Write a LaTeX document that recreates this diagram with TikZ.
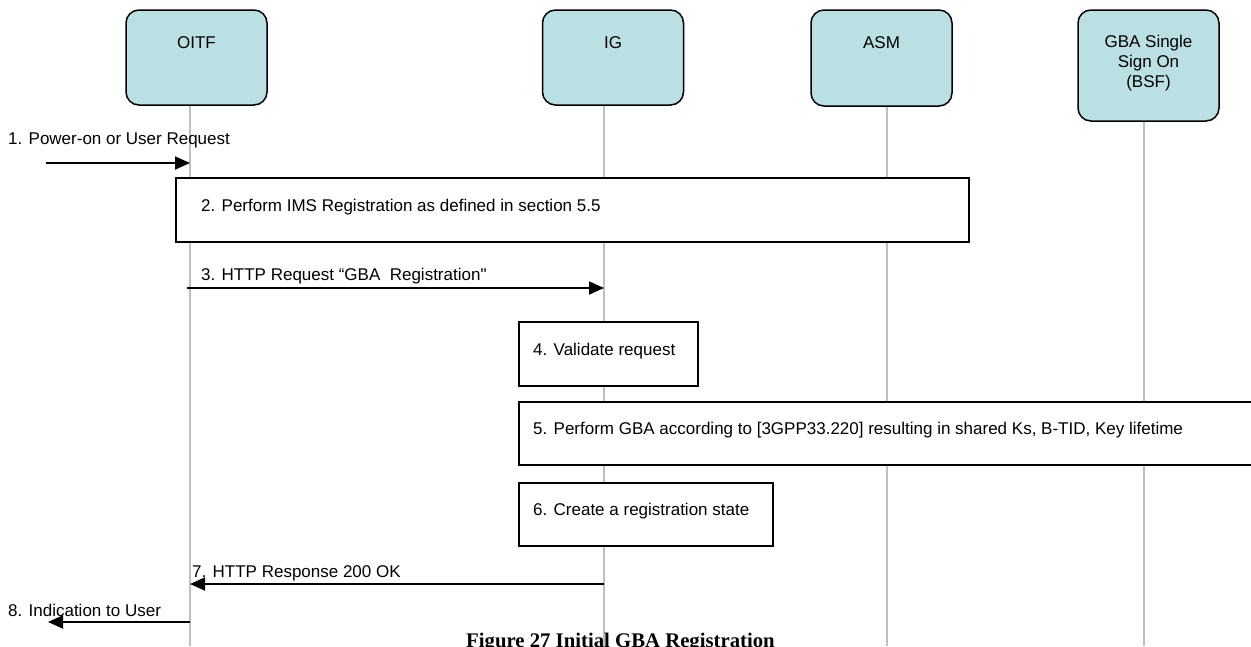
\documentclass[tikz,border=0pt]{standalone}
\usepackage{fontspec}
\setmainfont{Liberation Sans}[Ligatures=TeXOff]
\newfontfamily\capfont{Liberation Serif}
\usetikzlibrary{arrows.meta}
\definecolor{boxfill}{RGB}{187,224,227}
\definecolor{lifegray}{RGB}{192,192,192}
\begin{document}
\begin{tikzpicture}[x=1pt,y=-1pt,
  actor/.style={draw, line width=1.5pt, rounded corners=13pt, fill=boxfill, inner sep=0pt, minimum width=141pt},
  lifeline/.style={draw=lifegray, line width=1.3pt},
  stepbox/.style={draw, line width=1.5pt, fill=white, inner sep=0pt, anchor=north west},
  msg/.style={line width=1.8pt, -{Triangle[length=15pt,width=13pt]}},
  txt/.style={font=\fontsize{17}{20}\selectfont, inner sep=0pt, anchor=base west},
  ctxt/.style={font=\fontsize{17}{20}\selectfont, inner sep=0pt, anchor=base}]
\useasboundingbox (0,0) rectangle (1251,646);

% actors
\node[actor, minimum height=95pt] (oitf) at (196.5,57.5) {};
\node[actor, minimum height=95pt] (ig) at (613,57.5) {};
\node[actor, minimum height=96pt] (asm) at (881.5,58) {};
\node[actor, minimum height=111pt] (bsf) at (1148.5,65.5) {};

\node[ctxt, yshift=-39pt] at (oitf.north) {OITF};
\node[ctxt, yshift=-39pt] at (ig.north) {IG};
\node[ctxt, yshift=-39pt] at (asm.north) {ASM};
\node[font=\fontsize{17}{20}\selectfont, inner sep=0pt, align=center, anchor=north, yshift=-25.6pt] at (bsf.north) {GBA Single\\Sign On\\(BSF)};

% lifelines
\coordinate (oitfL) at (190,646);
\coordinate (igL) at (604,646);
\coordinate (asmL) at (887,646);
\coordinate (bsfL) at (1144,646);
\draw[lifeline] (oitf.south -| oitfL) -- (oitfL);
\draw[lifeline] (ig.south -| igL) -- (igL);
\draw[lifeline] (asm.south -| asmL) -- (asmL);
\draw[lifeline] (bsf.south -| bsfL) -- (bsfL);

% 1
\coordinate (u1) at (46,163);
\node[txt] (t1) at (8,144) {1. Power-on or User Request};
\draw[msg] (u1) -- (u1 -| oitfL);

% 2
\node[stepbox, minimum width=793pt, minimum height=64pt] (b2) at (175,177) {};
\node[txt] (t2) at (201,211) {2. Perform IMS Registration as defined in section 5.5};

% 3
\coordinate (m3) at (187,288);
\node[txt] (t3) at (201,280) {3. HTTP Request “GBA\ \ Registration"};
\draw[msg] (m3) -- (m3 -| igL);

% 4
\node[stepbox, minimum width=179pt, minimum height=64pt] (b4) at (518,321) {};
\node[txt] (t4) at (533,355) {4. Validate request};

% 5
\node[stepbox, minimum width=760pt, minimum height=63pt] (b5) at (518,401) {};
\node[txt] (t5) at (533,434) {5. Perform GBA according to [3GPP33.220] resulting in shared Ks, B-TID, Key lifetime};

% 6
\node[stepbox, minimum width=254pt, minimum height=63pt] (b6) at (518,482) {};
\node[txt] (t6) at (533,515) {6. Create a registration state};

% 7
\coordinate (m7) at (604,584);
\node[txt] (t7) at (192,577) {7. HTTP Response 200 OK};
\draw[msg] (m7) -- (m7 -| oitfL);

% 8
\coordinate (u8) at (48,622);
\node[txt] (t8) at (8,616) {8. Indication to User};
\draw[msg] (u8 -| oitfL) -- (u8);

% caption
\node[inner sep=0pt, anchor=base, font=\capfont\bfseries\fontsize{20.75}{24}\selectfont] (cap) at (620.5,647.5) {Figure 27 Initial GBA Registration};
\end{tikzpicture}
\end{document}
